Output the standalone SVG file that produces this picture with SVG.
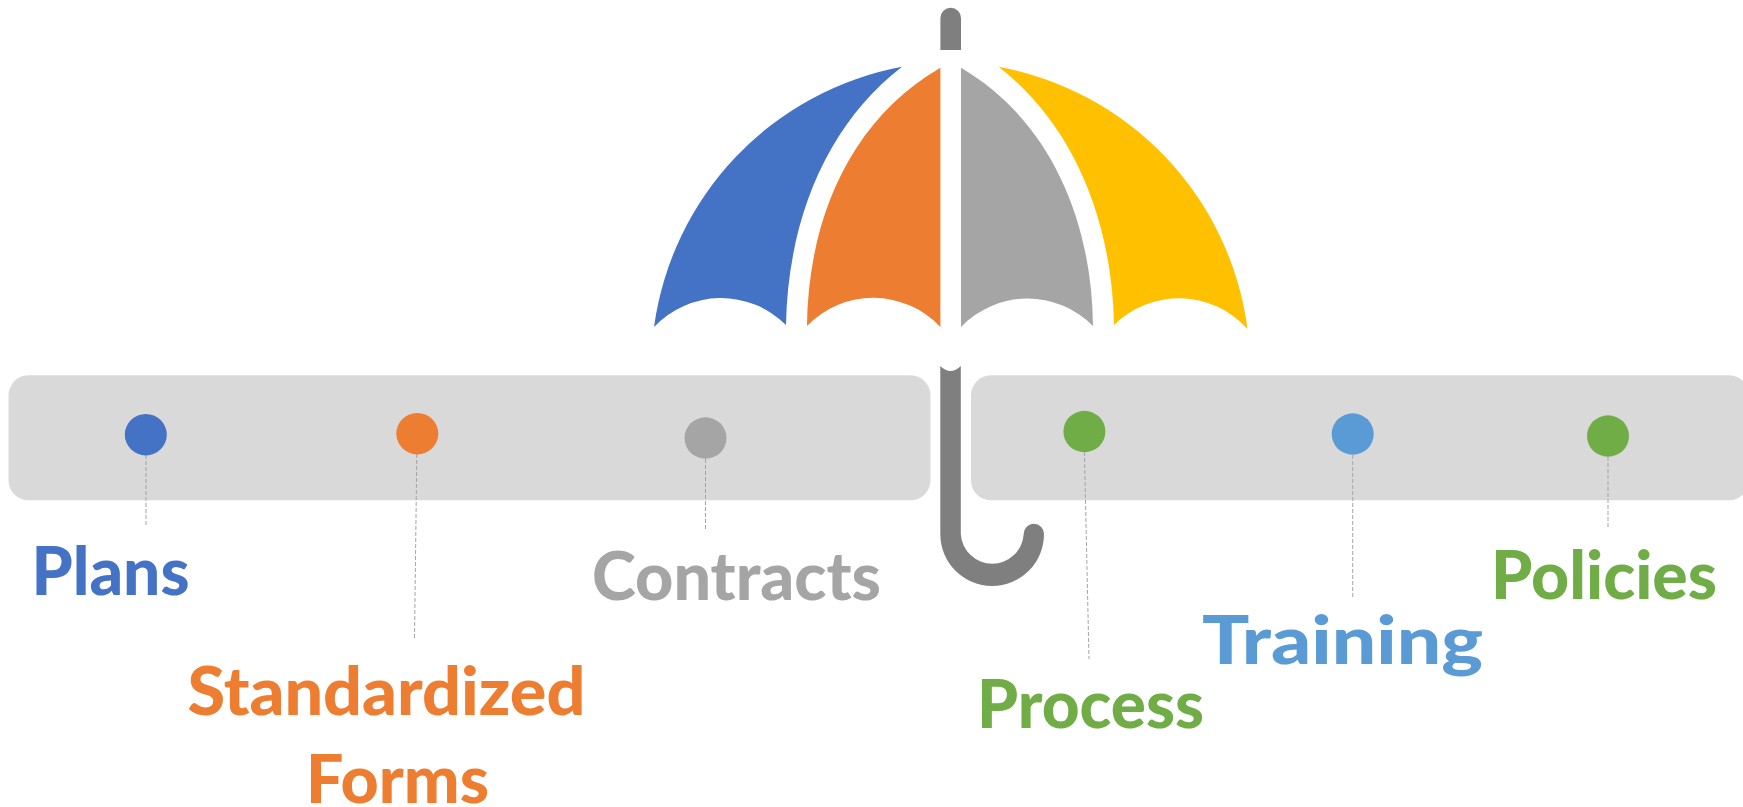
<svg xmlns="http://www.w3.org/2000/svg" width="1743" height="807" viewBox="0 0 1743 807">
<style>
.bar{fill:#D9D9D9}
.lbl{font-family:"Lato","Open Sans","Liberation Sans",sans-serif;font-weight:900;font-size:66px}
.ld{stroke:#A5A5A5;stroke-width:1;stroke-dasharray:4 2;fill:none}
.blue{fill:#4472C4}.orange{fill:#ED7D31}.gray{fill:#A5A5A5}.yellow{fill:#FFC000}.sky{fill:#5B9BD5}.green{fill:#70AD47}.dark{fill:#7F7F7F}
</style>
<rect width="1743" height="807" fill="#fff"/>
<g id="umbrella">
<path class="blue" d="M654,327 A307,307 0 0 1 902,66.7 C830,122 788,215 786,325 A92,92 0 0 0 654,327 Z"/>
<path class="orange" d="M807,326 C808,220 850,120 940.4,67.7 L940.4,327 A92,92 0 0 0 807,326 Z"/>
<path class="gray" d="M961,67.7 C1050,120 1092,220 1093,326 A92,92 0 0 0 961,327 Z"/>
<path class="yellow" d="M998.5,66.7 A307,307 0 0 1 1247.5,329 A92,92 0 0 0 1114,325 C1112,215 1070,122 998.5,66.7 Z"/>
<path class="dark" d="M940.4,50 L940.4,18 A10.3,10.3 0 0 1 961,18 L961,50 Z"/>
</g>
<g id="bar-left"><rect class="bar" x="8.5" y="375.3" width="922" height="125" rx="20" ry="20"/></g>
<g id="bar-right"><rect class="bar" x="971" y="375.3" width="778" height="125" rx="20" ry="20"/></g>
<g id="umbrella-handle">
<path class="dark" d="M940.3,366 Q950.5,376 960.8,366 L960.8,534 A31.5,31.5 0 0 0 1023.7,534 A10.15,10.15 0 0 1 1044,534 A51.85,52 0 0 1 940.3,534 Z"/>
</g>
<g id="connectors">
<path class="ld" d="M146,455 L146,527"/>
<path class="ld" d="M416.8,454 L414.5,639"/>
<path class="ld" d="M705.5,459 L705.5,530"/>
<path class="ld" d="M1084.4,452 L1089,659"/>
<path class="ld" d="M1352.7,455 L1352.7,598"/>
<path class="ld" d="M1608,457 L1608,529"/>
</g>
<g id="node-plans"><ellipse class="blue" cx="145.8" cy="434.7" rx="21" ry="20.7"/><text class="lbl blue" x="31.5" y="594.5" textLength="158" lengthAdjust="spacingAndGlyphs">Plans</text></g>
<g id="node-standardized-forms"><ellipse class="orange" cx="417.3" cy="433.7" rx="21" ry="20.7"/><text class="lbl orange" x="187.5" y="715" textLength="398" lengthAdjust="spacingAndGlyphs">Standardized</text><text class="lbl orange" x="306" y="803" textLength="183" lengthAdjust="spacingAndGlyphs">Forms</text></g>
<g id="node-contracts"><ellipse class="gray" cx="705.5" cy="438" rx="21" ry="20.7"/><text class="lbl gray" x="592" y="600" textLength="289" lengthAdjust="spacingAndGlyphs">Contracts</text></g>
<g id="node-process"><ellipse class="green" cx="1084.4" cy="431.5" rx="21" ry="20.7"/><text class="lbl green" x="977" y="727.7" textLength="227" lengthAdjust="spacingAndGlyphs">Process</text></g>
<g id="node-training"><ellipse class="sky" cx="1352.7" cy="434" rx="21" ry="20.7"/><text class="lbl sky" x="1202" y="664" textLength="281" lengthAdjust="spacingAndGlyphs">Training</text></g>
<g id="node-policies"><ellipse class="green" cx="1608" cy="436" rx="21" ry="20.7"/><text class="lbl green" x="1491" y="599" textLength="226" lengthAdjust="spacingAndGlyphs">Policies</text></g>
</svg>
